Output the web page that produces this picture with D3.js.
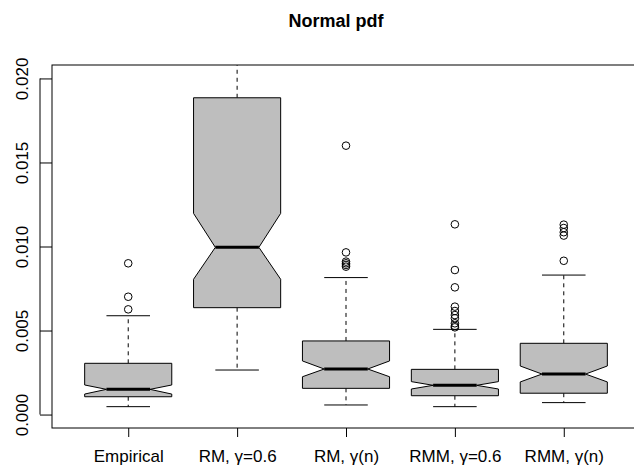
<!DOCTYPE html>
<html>
<head>
<meta charset="utf-8">
<script src="https://cdn.jsdelivr.net/npm/d3@7"></script>
<style>
  html, body { margin: 0; padding: 0; background: #fff; }
  svg text { font-family: "Liberation Sans", Arial, Helvetica, sans-serif; }
</style>
</head>
<body>
<svg id="chart" width="634" height="468"></svg>
<script>
// ---- data ----
const categories   = ["Empirical", "RM, γ=0.6", "RM, γ(n)", "RMM, γ=0.6", "RMM, γ(n)"];
const lowerWhisker = [0.00047, 0.00265, 0.00057, 0.00047, 0.00071];
const q1           = [0.00106, 0.00636, 0.00156, 0.00112, 0.00127];
const notchLow     = [0.00122, 0.00805, 0.00225, 0.00152, 0.00194];
const medians      = [0.00150, 0.00995, 0.00271, 0.00174, 0.00241];
const notchHigh    = [0.00176, 0.01197, 0.00319, 0.00196, 0.00289];
const q3           = [0.00305, 0.01885, 0.00438, 0.00269, 0.00424];
const upperWhisker = [0.00588, 0.02600, 0.00815, 0.00507, 0.00830];
const outliers     = [
  [0.00900, 0.00701, 0.00626],
  [],
  [0.01600, 0.00965, 0.00910, 0.00900, 0.00890, 0.00880],
  [0.01132, 0.00860, 0.00757, 0.00642, 0.00616, 0.00592, 0.00573, 0.00543, 0.00527, 0.00519],
  [0.01130, 0.01110, 0.01085, 0.01065, 0.00915]
];
const yTicks = [0.000, 0.005, 0.010, 0.015, 0.020];
const title = "Normal pdf";

// ---- layout ----
const svg = d3.select("#chart");
const L = 52, R = 640, T = 65, B = 428;
const x = d3.scaleLinear().domain([0.3, categories.length + 0.7]).range([L, R]);
const y = d3.scaleLinear().domain([-0.0008, 0.0208]).range([B, T]);
const unit = x(2) - x(1);
const hw = 0.4 * unit;   // box half width
const sw = 0.2 * unit;   // staple / notch half width

svg.append("defs").append("clipPath").attr("id", "plotclip")
  .append("rect").attr("x", L).attr("y", T).attr("width", R - L).attr("height", B - T);

const g = svg.append("g").attr("clip-path", "url(#plotclip)");

categories.forEach((c, i) => {
  const cx = x(i + 1);
  // whiskers (dashed)
  g.append("line").attr("x1", cx).attr("x2", cx)
    .attr("y1", y(q3[i])).attr("y2", y(upperWhisker[i]))
    .attr("stroke", "#000").attr("stroke-width", 1).attr("stroke-dasharray", "4,4");
  g.append("line").attr("x1", cx).attr("x2", cx)
    .attr("y1", y(q1[i])).attr("y2", y(lowerWhisker[i]))
    .attr("stroke", "#000").attr("stroke-width", 1).attr("stroke-dasharray", "4,4");
  // staples
  [upperWhisker[i], lowerWhisker[i]].forEach(v => {
    g.append("line").attr("x1", cx - sw).attr("x2", cx + sw)
      .attr("y1", y(v)).attr("y2", y(v))
      .attr("stroke", "#000").attr("stroke-width", 1);
  });
  // notched box
  const pts = [
    [cx - hw, y(q3[i])], [cx + hw, y(q3[i])], [cx + hw, y(notchHigh[i])],
    [cx + sw, y(medians[i])], [cx + hw, y(notchLow[i])], [cx + hw, y(q1[i])],
    [cx - hw, y(q1[i])], [cx - hw, y(notchLow[i])], [cx - sw, y(medians[i])],
    [cx - hw, y(notchHigh[i])]
  ];
  g.append("path").attr("d", d3.line()(pts) + "Z")
    .attr("fill", "#bebebe").attr("stroke", "#000").attr("stroke-width", 1)
    .attr("stroke-linejoin", "round");
  // median
  g.append("line").attr("x1", cx - sw).attr("x2", cx + sw)
    .attr("y1", y(medians[i])).attr("y2", y(medians[i]))
    .attr("stroke", "#000").attr("stroke-width", 3);
  // outliers
  outliers[i].forEach(v => {
    g.append("circle").attr("cx", cx).attr("cy", y(v)).attr("r", 3.8)
      .attr("fill", "none").attr("stroke", "#000").attr("stroke-width", 1);
  });
});

// plot frame
svg.append("rect").attr("x", L).attr("y", T).attr("width", R - L).attr("height", B - T)
  .attr("fill", "none").attr("stroke", "#000").attr("stroke-width", 1);

// y axis
const yAxis = d3.axisLeft(y).tickValues(yTicks).tickFormat(d3.format(".3f")).tickSize(12).tickPadding(10);
const ya = svg.append("g").attr("transform", `translate(${L - 12},0)`).call(yAxis);
ya.select(".domain").remove();
ya.selectAll(".tick line").attr("transform", "translate(12,0)").attr("x2", -12).attr("stroke", "#000");
ya.selectAll(".tick text")
  .attr("x", 0).attr("dy", 0)
  .attr("text-anchor", "middle")
  .attr("transform", "translate(-12,0) rotate(-90)")
  .attr("font-size", 17).attr("fill", "#000");
svg.append("line").attr("x1", L - 12).attr("x2", L - 12)
  .attr("y1", y(yTicks[0])).attr("y2", y(yTicks[yTicks.length - 1]))
  .attr("stroke", "#000");

// x axis
const xAxis = d3.axisBottom(x).tickValues(categories.map((c, i) => i + 1))
  .tickFormat((d, i) => categories[i]).tickSize(9).tickPadding(13);
const xa = svg.append("g").attr("transform", `translate(0,${B})`).call(xAxis);
xa.select(".domain").remove();
xa.selectAll(".tick line").attr("stroke", "#000");
xa.selectAll(".tick text").attr("font-size", 17).attr("fill", "#000");

// title
svg.append("text").attr("x", 336).attr("y", 27)
  .attr("text-anchor", "middle").attr("font-weight", "bold").attr("font-size", 18)
  .text(title);
</script>
</body>
</html>
